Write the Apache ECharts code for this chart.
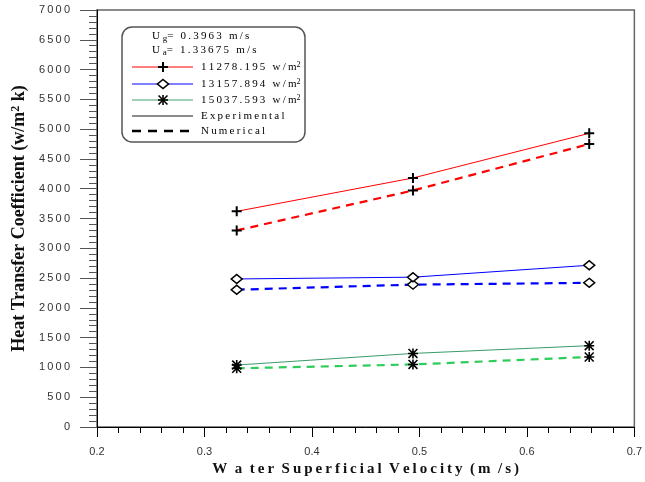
<!DOCTYPE html>
<html>
<head>
<meta charset="utf-8">
<script src="https://cdn.jsdelivr.net/npm/echarts@6/dist/echarts.min.js"></script>
<style>
    html, body { margin: 0; padding: 0; background: #fff; }
    #chart { width: 645px; height: 482px; }
</style>
</head>
<body>
<div id="chart"></div>
<script>
    'use strict';

    // water superficial velocity (m/s)
    var velocity = [0.33, 0.494, 0.658];

    // heat flux cases
    var fluxLabels = ['11278.195 w/m', '13157.894 w/m', '15037.593 w/m'];

    // experimental / numerical heat transfer coefficient (w/m2 k)
    var exp11278 = [3620, 4180, 4930];
    var num11278 = [3300, 3970, 4750];
    var exp13157 = [2485, 2515, 2715];
    var num13157 = [2305, 2390, 2420];
    var exp15037 = [1040, 1235, 1365];
    var num15037 = [985, 1050, 1175];

    // marker outlines in a 10x10 box
    var plusPts = [[[4, 0], [6, 0], [6, 4], [10, 4], [10, 6], [6, 6], [6, 10], [4, 10], [4, 6], [0, 6], [0, 4], [4, 4]]];
    var starPts = [
        [[4.2, 0], [5.8, 0], [5.8, 10], [4.2, 10]],
        [[0, 4.2], [10, 4.2], [10, 5.8], [0, 5.8]],
        [[0, 1.1], [1.1, 0], [10, 8.9], [8.9, 10]],
        [[8.9, 0], [10, 1.1], [1.1, 10], [0, 8.9]]
    ];

    function toPath(shapes) {
        return 'path://' + shapes.map(function(pts) {
            return 'M' + pts.map(function(p) { return p[0] + ',' + p[1]; }).join('L') + 'Z';
        }).join('');
    }

    var PLUS = toPath(plusPts);
    var STAR = toPath(starPts);

    var SERIF = '"Liberation Serif", "Times New Roman", serif';
    var SANS = '"Liberation Sans", Arial, sans-serif';

    function spaced(str, sep) {
        return str.split('').join(sep);
    }

    // letter-space each word, widen the word gaps
    function spacedWords(str, sep) {
        return str.split(' ').map(function(w) { return spaced(w, sep); }).join('\u2002');
    }

    function pairs(values) {
        return velocity.map(function(v, i) { return [v, values[i]]; });
    }

    function makeSeries(name, values, color, dashed, symbol, size, fill) {
        return {
            name: name,
            type: 'line',
            data: pairs(values),
            symbol: symbol,
            symbolSize: size,
            itemStyle: { color: fill, borderColor: '#000', borderWidth: fill === '#fff' ? 1.5 : 0 },
            lineStyle: dashed
                ? { color: color, width: 2.2, type: [8, 6] }
                : { color: color, width: 1 },
            emphasis: { disabled: true },
            silent: true,
            z: dashed ? 3 : 4
        };
    }

    var legendText = {
        n: { fontFamily: SERIF, fontSize: 11, color: '#222', lineHeight: 12, verticalAlign: 'bottom' },
        s: { fontFamily: SERIF, fontSize: 8, color: '#222', lineHeight: 8, verticalAlign: 'top', padding: [0, 0, 4, 0] },
        b: { fontFamily: SERIF, fontSize: 9, color: '#222', lineHeight: 9, verticalAlign: 'bottom', padding: [6, 0, 0, 0] },
        t: { fontFamily: SERIF, fontSize: 11, color: '#222', lineHeight: 12, verticalAlign: 'top' }
    };

    function textItem(x, y, text) {
        return {
            type: 'text', x: x, y: y, silent: true,
            style: { text: text, rich: legendText, verticalAlign: 'middle', align: 'left' }
        };
    }

    function lineItem(y, color, width, dash) {
        return {
            type: 'line', silent: true,
            shape: { x1: 132, y1: y, x2: 193, y2: y },
            style: { stroke: color, lineWidth: width, lineDash: dash || null }
        };
    }

    function markerItem(cy, shapes) {
        return {
            type: 'group', x: 158, y: cy - 5, silent: true,
            children: shapes.map(function(pts) {
                return { type: 'polygon', shape: { points: pts }, style: { fill: '#000' } };
            })
        };
    }

    var legendGraphic = [
        {
            type: 'rect', silent: true,
            shape: { x: 122, y: 27, width: 183, height: 115, r: 10 },
            style: { fill: '#fff', stroke: '#555', lineWidth: 1.5 }
        },
        textItem(152, 37, '{t|U }{b|g}{t|' + spaced('= 0.3963 m/s', '\u2009') + '}'),
        textItem(152, 51, '{t|U }{b|a}{t|' + spaced('= 1.33675 m/s', '\u2009') + '}'),
        lineItem(67, '#ff0000', 1.2),
        markerItem(67, plusPts),
        textItem(201, 67, '{n|' + spaced(fluxLabels[0], '\u2009') + '}{s|2}'),
        lineItem(84, '#0000ff', 1.2),
        {
            type: 'polygon', silent: true,
            shape: { points: [[163, 79.5], [168.5, 84], [163, 88.5], [157.5, 84]] },
            style: { fill: '#fff', stroke: '#000', lineWidth: 1.6 }
        },
        textItem(201, 84, '{n|' + spaced(fluxLabels[1], '\u2009') + '}{s|2}'),
        lineItem(100, '#7fbf9f', 1.5),
        markerItem(100, starPts),
        textItem(201, 100, '{n|' + spaced(fluxLabels[2], '\u2009') + '}{s|2}'),
        lineItem(116, '#666', 1.5),
        textItem(201, 116, '{n|' + spaced('Experimental', '\u2009') + '}'),
        lineItem(131, '#000', 2.5, [9, 7]),
        textItem(201, 131, '{n|' + spaced('Numerical', '\u2009') + '}')
    ];

    var chart = echarts.init(document.getElementById('chart'), null, { renderer: 'canvas' });

    chart.setOption({
        animation: false,
        backgroundColor: '#fff',
        grid: {
            left: 97, right: 10, top: 10, bottom: 55,
            show: true, borderColor: '#666', borderWidth: 1.5, backgroundColor: 'transparent'
        },
        xAxis: {
            type: 'value',
            min: 0.2, max: 0.7, interval: 0.1,
            name: spacedWords('W a ter Superficial Velocity (m /s)', '\u2009'),
            nameLocation: 'middle',
            nameGap: 34,
            nameTextStyle: { fontFamily: SERIF, fontWeight: 'bold', fontSize: 15, color: '#111' },
            axisLine: { show: true, lineStyle: { color: '#000', width: 1 } },
            axisTick: { show: true, inside: false, length: 10, lineStyle: { color: '#000' } },
            minorTick: { show: true, splitNumber: 5, length: 6, lineStyle: { color: '#000' } },
            splitLine: { show: false },
            axisLabel: {
                margin: 19,
                fontFamily: SANS, fontSize: 11, color: '#333',
                formatter: function(v) { return v.toFixed(1); }
            }
        },
        yAxis: {
            type: 'value',
            min: 0, max: 7000, interval: 500,
            name: 'Heat Transfer Coefficient (w/m{s|2} k)',
            nameLocation: 'middle',
            nameGap: 62,
            nameTextStyle: {
                fontFamily: SERIF, fontWeight: 'bold', fontSize: 18, color: '#111',
                rich: {
                    s: { fontFamily: SERIF, fontWeight: 'bold', fontSize: 12, color: '#111', verticalAlign: 'top', padding: [0, 0, 7, 0] }
                }
            },
            axisLine: { show: true, lineStyle: { color: '#000', width: 1 } },
            axisTick: { show: true, inside: false, length: 17, lineStyle: { color: '#555' } },
            minorTick: { show: true, splitNumber: 5, length: 8, lineStyle: { color: '#555' } },
            splitLine: { show: false },
            axisLabel: {
                margin: 27,
                fontFamily: SANS, fontSize: 11, color: '#333',
                formatter: function(v) { return spaced(String(v), '\u2009'); }
            }
        },
        graphic: legendGraphic,
        series: [
            makeSeries('exp 11278', exp11278, '#ff0000', false, PLUS, 10, '#000'),
            makeSeries('num 11278', num11278, '#ff0000', true, PLUS, 10, '#000'),
            makeSeries('exp 13157', exp13157, '#0000ff', false, 'diamond', [11, 9], '#fff'),
            makeSeries('num 13157', num13157, '#0000ff', true, 'diamond', [11, 9], '#fff'),
            makeSeries('exp 15037', exp15037, '#3a9a6a', false, STAR, 10, '#000'),
            makeSeries('num 15037', num15037, '#2ecc5a', true, STAR, 10, '#000')
        ]
    });
</script>
</body>
</html>
